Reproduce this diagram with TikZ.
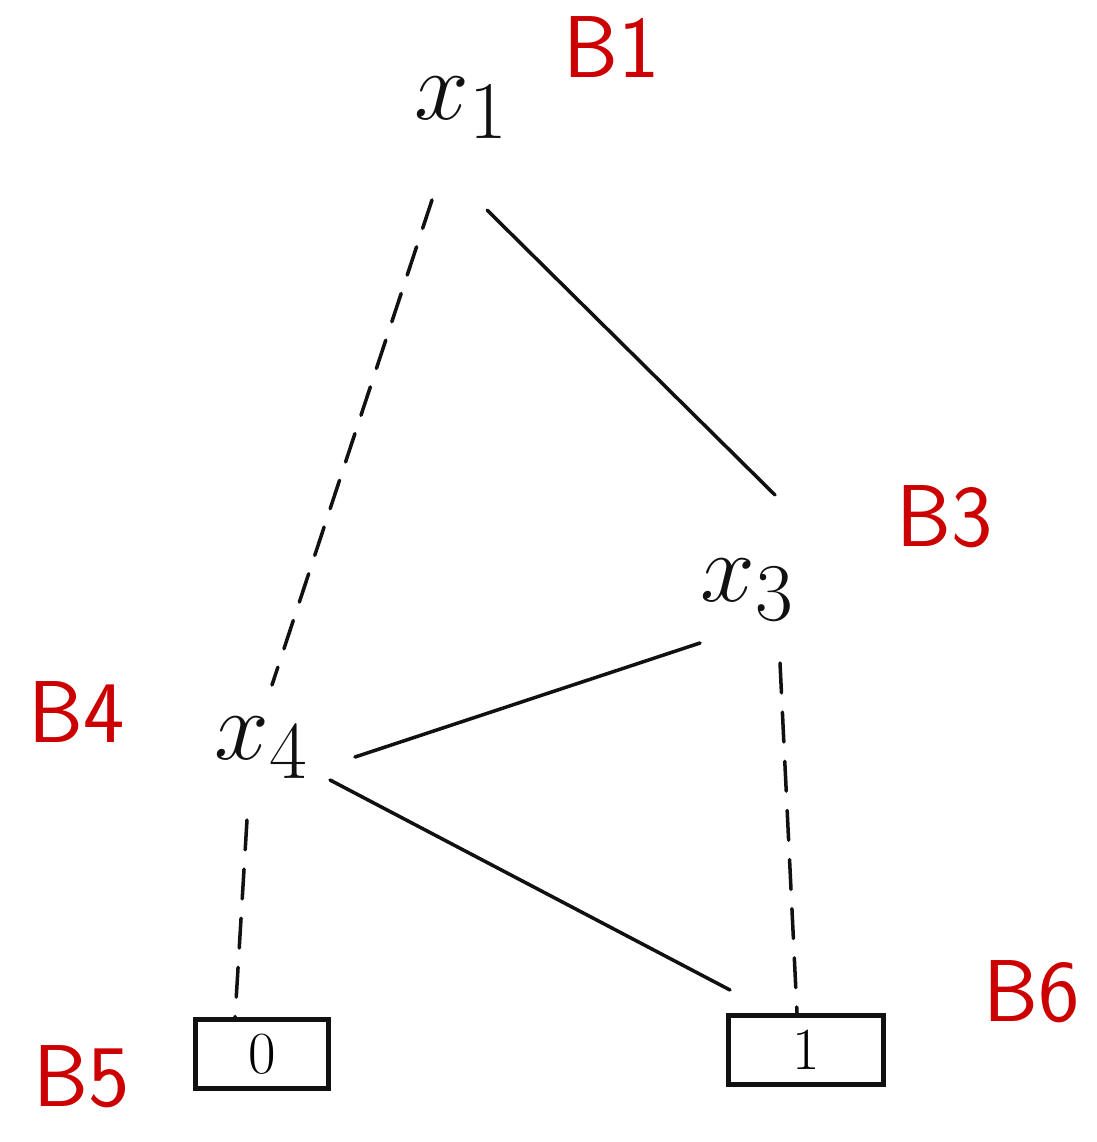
\documentclass[tikz,border=0pt]{standalone}
\usepackage{graphicx}
\usetikzlibrary{calc,positioning}
\definecolor{ink}{HTML}{111111}
\definecolor{penred}{HTML}{CC0000}
\newcommand{\bigvar}[1]{\scalebox{2.25}{$#1$}}
\tikzset{
  var/.style={text=ink,inner sep=0pt,font=\fontsize{24.88}{26}\selectfont},
  blabel/.style={text=penred,inner sep=0pt,font=\sffamily\fontsize{50}{50}\selectfont},
  leaf/.style={draw=ink,line width=2.4pt,minimum height=1.38cm,inner sep=0pt,
    font=\fontsize{34}{34}\selectfont},
  hi/.style={draw=ink,line width=2pt,line cap=round},
  lo/.style={hi,dash pattern=on 17pt off 11pt}}
\begin{document}
\begin{tikzpicture}[x=0.02cm,y=-0.02cm]
\useasboundingbox (0,0) rectangle (1097,1142);

% variables
\node[var] (x1) at (462,108) {\bigvar{x_1}};
\node[var] (x3) at (748,590) {\bigvar{x_3}};
\node[var] (x4) at (262,748) {\bigvar{x_4}};
% terminals
\node[leaf,minimum width=2.66cm] (zero) at (262,1054) {0};
\node[leaf,minimum width=3.1cm] (one) at (806,1050) {1};
% block names
\node[blabel] (b1) at (612,47) {B1};
\node[blabel] (b3) at (945,517) {B3};
\node[blabel] (b4) at (77,712) {B4};
\node[blabel] (b5) at (82,1077) {B5};
\node[blabel] (b6) at (1032,992) {B6};

% edges
\draw[lo] ($(x1)+(-30,92)$) -- ($(x4)+(10,-63)$);
\draw[hi] ($(x1)+(25,102)$) -- ($(x3)+(27,-95)$);
\draw[hi] ($(x3)+(-48,53)$) -- ($(x4)+(93,9)$);
\draw[hi] ($(x4)+(68,32)$) -- ($(one)+(-76,-60)$);
\draw[lo] ($(x4)+(-15,72)$) -- ($(zero)+(-27,-36)$);
\draw[lo] ($(x3)+(32,73)$) -- ($(one)+(-9,-37)$);
\end{tikzpicture}
\end{document}
